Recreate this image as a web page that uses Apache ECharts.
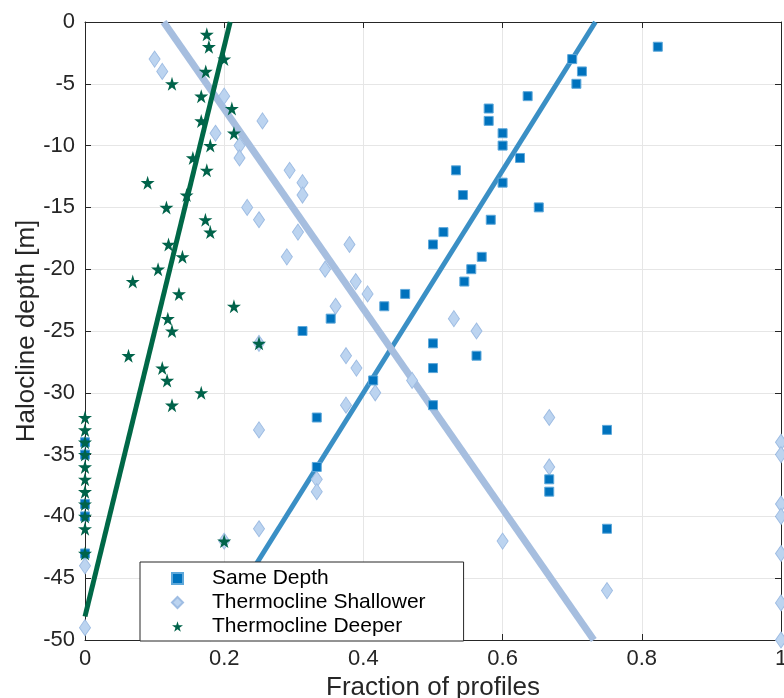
<!DOCTYPE html>
<html>
<head>
    <meta charset="utf-8">
    <title>Halocline depth</title>
    <script src="https://cdn.jsdelivr.net/npm/echarts@6/dist/echarts.min.js"></script>
    <style>
        html, body { margin: 0; padding: 0; background: #fff; }
    </style>
</head>
<body>
    <div id="main" style="width:784px;height:698px;"></div>

    <script type="text/javascript">
        // points [fraction, depth]
        var sameDepth = [
            [0.823, -2], [0.70, -3], [0.714, -4], [0.706, -5], [0.636, -6], [0.58, -7], [0.58, -8],
            [0.6, -9], [0.6, -10], [0.625, -11], [0.533, -12], [0.6, -13], [0.543, -14], [0.652, -15],
            [0.583, -16], [0.515, -17], [0.5, -18], [0.57, -19], [0.555, -20], [0.545, -21], [0.46, -22],
            [0.43, -23], [0.353, -24], [0.3125, -25], [0.5, -26], [0.5625, -27], [0.5, -28], [0.414, -29],
            [0.5, -31], [0.333, -32], [0.75, -33], [0, -34], [0, -35], [0.333, -36], [0.667, -37],
            [0.667, -38], [0, -39], [0, -40], [0.75, -41], [0, -43]
        ];
        var shallower = [
            [0.1, -3], [0.111, -4], [0.2, -6], [0.255, -8], [0.1875, -9], [0.222, -10], [0.222, -11],
            [0.294, -12], [0.3125, -13], [0.3125, -14], [0.233, -15], [0.25, -16], [0.306, -17], [0.38, -18],
            [0.29, -19], [0.345, -20], [0.389, -21], [0.406, -22], [0.36, -23], [0.53, -24], [0.5625, -25],
            [0.25, -26], [0.375, -27], [0.39, -28], [0.47, -29], [0.417, -30], [0.375, -31], [0.667, -32],
            [0.25, -33], [1, -34], [1, -35], [0.667, -36], [0.333, -37], [0.333, -38], [1, -39], [1, -40],
            [0.25, -41], [0.6, -42], [0.2, -42], [1, -43], [0, -44], [0.75, -46], [1, -47], [0, -49], [1, -50]
        ];
        var deeper = [
            [0.175, -1], [0.178, -2], [0.2, -3], [0.1735, -4], [0.125, -5], [0.167, -6], [0.211, -7],
            [0.167, -8], [0.214, -9], [0.18, -10], [0.155, -11], [0.175, -12], [0.09, -13], [0.146, -14],
            [0.117, -15], [0.173, -16], [0.18, -17], [0.12, -18], [0.14, -19], [0.105, -20], [0.0686, -21],
            [0.135, -22], [0.214, -23], [0.119, -24], [0.125, -25], [0.25, -26], [0.0625, -27], [0.111, -28],
            [0.118, -29], [0.167, -30], [0.125, -31], [0, -32], [0, -33], [0, -34], [0, -35], [0, -36],
            [0, -37], [0, -38], [0, -39], [0, -40], [0, -41], [0.2, -42], [0, -43]
        ];

        // fitted lines: depth = slope * fraction + intercept, drawn between two depths
        var fitSlope     = [90, -80.9, 230.6];
        var fitIntercept = [-66, 9.14, -48.1];
        var fitDepthFrom = [-50, -50, -48.1];
        var fitDepthTo   = [0, 0, 0];

        var seriesNames = ['Same Depth', 'Thermocline Shallower', 'Thermocline Deeper'];
        var xTicks = [0, 1, 0.2];
        var yTicks = [-50, 0, 5];

        var starPath = 'path://M50,0 L61,35 L98,35 L68,57 L79,91 L50,70 L21,91 L32,57 L2,35 L39,35 Z';
        var font = 'Liberation Sans, Arial, Helvetica, sans-serif';

        var fitLine = function(i) {
            var pts = [fitDepthFrom[i], fitDepthTo[i]].map(function(d) {
                return [(d - fitIntercept[i]) / fitSlope[i], d];
            });
            return pts;
        };

        var myChart = echarts.init(document.getElementById('main'));

        var axisX = function(pos, show) {
            return {
                type: 'value', position: pos, min: xTicks[0], max: xTicks[1], interval: xTicks[2],
                axisLine: { show: true, onZero: false, lineStyle: { color: '#262626', width: 1 } },
                axisTick: { show: true, inside: true, length: 6, lineStyle: { color: '#262626' } },
                axisLabel: { show: show, color: '#262626', fontSize: 22, fontFamily: font, margin: 8 },
                splitLine: { show: show, lineStyle: { color: '#e6e6e6', width: 1 } }
            };
        };
        var axisY = function(pos, show) {
            return {
                type: 'value', position: pos, min: yTicks[0], max: yTicks[1], interval: yTicks[2],
                axisLine: { show: true, onZero: false, lineStyle: { color: '#262626', width: 1 } },
                axisTick: { show: true, inside: true, length: 6, lineStyle: { color: '#262626' } },
                axisLabel: { show: show, color: '#262626', fontSize: 22, fontFamily: font, margin: 10 },
                splitLine: { show: show, lineStyle: { color: '#e6e6e6', width: 1 } }
            };
        };

        var xMain = axisX('bottom', true);
        xMain.name = 'Fraction of profiles';
        xMain.nameLocation = 'middle';
        xMain.nameGap = 32;
        xMain.nameTextStyle = { color: '#262626', fontSize: 26, fontFamily: font };
        var yMain = axisY('left', true);
        yMain.name = 'Halocline depth [m]';
        yMain.nameLocation = 'middle';
        yMain.nameGap = 45;
        yMain.nameMoveOverlap = false;
        yMain.nameTextStyle = { color: '#262626', fontSize: 26, fontFamily: font };

        var option = {
            animation: false,
            grid: { left: 85, right: 3, top: 22, bottom: 58, containLabel: false, outerBoundsMode: 'none' },
            xAxis: [xMain, axisX('top', false)],
            yAxis: [yMain, axisY('right', false)],
            legend: {
                data: seriesNames,
                orient: 'vertical',
                left: 140,
                top: 562,
                padding: [6, 38, 4, 31],
                itemGap: 3,
                itemWidth: 11,
                itemHeight: 11,
                backgroundColor: '#fff',
                borderColor: '#262626',
                borderWidth: 1,
                borderRadius: 0,
                textStyle: { color: '#000', fontSize: 21, fontFamily: font, padding: [0, 0, 0, 24] }
            },
            series: [
                { type: 'line', data: fitLine(0), symbol: 'none', silent: true, z: 1,
                  lineStyle: { color: '#3a8fc5', width: 5 } },
                { type: 'line', data: fitLine(1), symbol: 'none', silent: true, z: 1,
                  lineStyle: { color: '#a6bedf', width: 7 } },
                { type: 'line', data: fitLine(2), symbol: 'none', silent: true, z: 1,
                  lineStyle: { color: '#006847', width: 5 } },
                { name: seriesNames[0], type: 'scatter', data: sameDepth, symbol: 'rect', symbolSize: 9,
                  clip: false, z: 3,
                  itemStyle: { color: '#0072BD', borderColor: '#5ea8da', borderWidth: 1, opacity: 1 } },
                { name: seriesNames[1], type: 'scatter', data: shallower, symbol: 'diamond', symbolSize: [11, 16],
                  clip: false, z: 2,
                  itemStyle: { color: '#bcd4f0', borderColor: '#9fbde3', borderWidth: 1, opacity: 1 } },
                { name: seriesNames[2], type: 'scatter', data: deeper, symbol: starPath, symbolSize: 14,
                  clip: false, z: 4,
                  itemStyle: { color: '#00634a', opacity: 1 } }
            ]
        };

        myChart.setOption(option);
    </script>
</body>
</html>
